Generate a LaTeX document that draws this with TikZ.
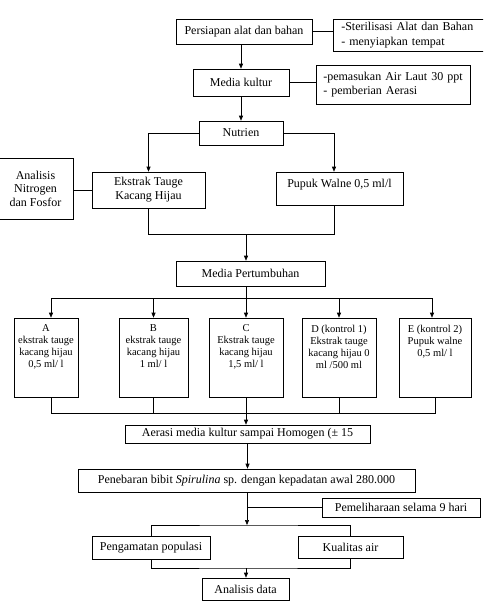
\documentclass[tikz,border=0pt]{standalone}
\usepackage{fontspec}
\setmainfont{Liberation Serif}
\usetikzlibrary{arrows.meta}

\newcommand{\isi}[2]{\parbox[c][79pt][t]{#1}{\centering\vspace*{7pt}#2}}

\tikzset{
  box/.style={draw, inner sep=2pt, align=center, font=\fontsize{12}{14}\selectfont},
  perlakuan/.style={draw, inner sep=0pt, font=\fontsize{10.5}{12}\selectfont},
  arr/.style={-{Triangle[length=5pt,width=4pt]}},
}

\begin{document}
\begin{tikzpicture}[x=1pt,y=-1pt,line width=0.6pt]
\path[use as bounding box, clip] (0,0) rectangle (483,613);

% persiapan
\node[box, minimum width=136, minimum height=25] (persiapan) at (244,31.5) {Persiapan alat dan bahan};
\node[box, anchor=west, align=left, text width=160, inner xsep=8pt, minimum height=32,
  font=\fontsize{12}{15}\selectfont] (steril) at (333,35) {-Sterilisasi Alat dan Bahan\\- menyiapkan tempat};
\node[box, minimum width=96, minimum height=27] (kultur) at (241,82.5) {Media kultur};
\node[box, anchor=west, align=left, text width=140, inner xsep=7pt, minimum height=39] (airlaut) at (316,84.5) {-pemasukan Air Laut 30 ppt\\- pemberian Aerasi};

% nutrien
\node[box, minimum width=84, minimum height=24] (nutrien) at (241,133) {Nutrien};
\node[box, minimum width=113, minimum height=36] (tauge) at (148.5,190) {Ekstrak Tauge\\Kacang Hijau};
\node[box, minimum width=127, text height=12pt, text depth=15pt, inner ysep=3pt] (walne) at (339.5,188.5) {Pupuk Walne 0,5 ml/l};
\node[box, minimum width=75, minimum height=61, font=\fontsize{12}{13.5}\selectfont] (analisis) at (35.5,188.5) {Analisis\\Nitrogen\\dan Fosfor};
\node[box, minimum width=149, minimum height=25] (pertumbuhan) at (250.5,273.5) {Media Pertumbuhan};

% perlakuan A - E
\node[perlakuan] (A) at (46,357.5) {\isi{64pt}{A\\ekstrak tauge\\kacang hijau\\0,5 ml/ l}};
\node[perlakuan] (B) at (153.5,357.5) {\isi{69pt}{B\\ekstrak tauge\\kacang hijau\\1 ml/ l}};
\node[perlakuan] (C) at (246,357.5) {\isi{74pt}{C\\Ekstrak tauge\\kacang hijau\\1,5 ml/ l}};
\node[perlakuan] (D) at (339,357.5) {\isi{74pt}{D (kontrol 1)\\Ekstrak tauge\\kacang hijau 0\\ml /500 ml}};
\node[perlakuan] (E) at (435,357.5) {\isi{72pt}{E (kontrol 2)\\Pupuk walne\\0,5 ml/ l}};

% tahap akhir
\node[box, minimum width=245, minimum height=18, inner ysep=0pt] (homogen) at (247.5,434) {Aerasi media kultur sampai Homogen (± 15};
\node[box, minimum width=337, minimum height=23] (penebaran) at (246.5,480.5) {Penebaran bibit \textit{Spirulina} sp. dengan kepadatan awal 280.000};
\node[box, minimum width=158, minimum height=19, inner ysep=0pt] (pelihara) at (401,507.5) {Pemeliharaan selama 9 hari};
\node[box, minimum width=118, minimum height=23] (populasi) at (151,547.5) {Pengamatan populasi};
\node[box, minimum width=105, minimum height=22] (kualitas) at (350.5,547.5) {Kualitas air};
\node[box, minimum width=87, minimum height=22] (data) at (245.5,589) {Analisis data};

\coordinate (jkanan) at (334,234);
\coordinate (jtengah) at (246,234);
\coordinate (bagi) at (246,298);
\coordinate (ta) at (51,298);
\coordinate (te) at (432,298);
\coordinate (kumpul) at (246,413);
\coordinate (amati) at (247,525);
\coordinate (hasil) at (246,568);

% garis
\draw[arr] (persiapan.south -| kultur.north) -- (kultur.north);
\draw (persiapan.east) -- (persiapan.east -| steril.west);
\draw (kultur.east) -- (kultur.east -| airlaut.west);
\draw[arr] (kultur.south) -- (nutrien.north);
\draw[arr] (nutrien.west) -| (tauge.north);
\draw[arr] (nutrien.east) -| (jkanan |- walne.north);
\draw (tauge.west) -- (tauge.west -| analisis.east);
\draw (tauge.south) |- (jkanan) -- (jkanan |- walne.south);
\draw[arr] (jtengah) -- (jtengah |- pertumbuhan.north);

\draw (jtengah |- pertumbuhan.south) -- (bagi);
\draw (ta) -- (te);
\draw[arr] (ta) -- (ta |- A.north);
\draw[arr] (B.north |- bagi) -- (B.north);
\draw[arr] (bagi) -- (C.north);
\draw[arr] (D.north |- bagi) -- (D.north);
\draw[arr] (te) -- (te |- E.north);

\draw (ta |- A.south) -- (ta |- kumpul) -- (E.south |- kumpul) -- (E.south);
\draw (B.south) -- (B.south |- kumpul);
\draw (D.south) -- (D.south |- kumpul);
\draw[arr] (C.south) -- (C.south |- homogen.north);
\draw[arr] (homogen.south) -- (homogen.south |- penebaran.north);

\draw[arr] (penebaran.south -| amati) -- (amati);
\draw (pelihara.west) -- (pelihara.west -| amati);
\draw (populasi.north) |- (amati) -| (kualitas.north);
\draw (populasi.south) |- (hasil) -| (kualitas.south);
\draw[arr] (hasil) -- (hasil |- data.north);
\end{tikzpicture}
\end{document}
